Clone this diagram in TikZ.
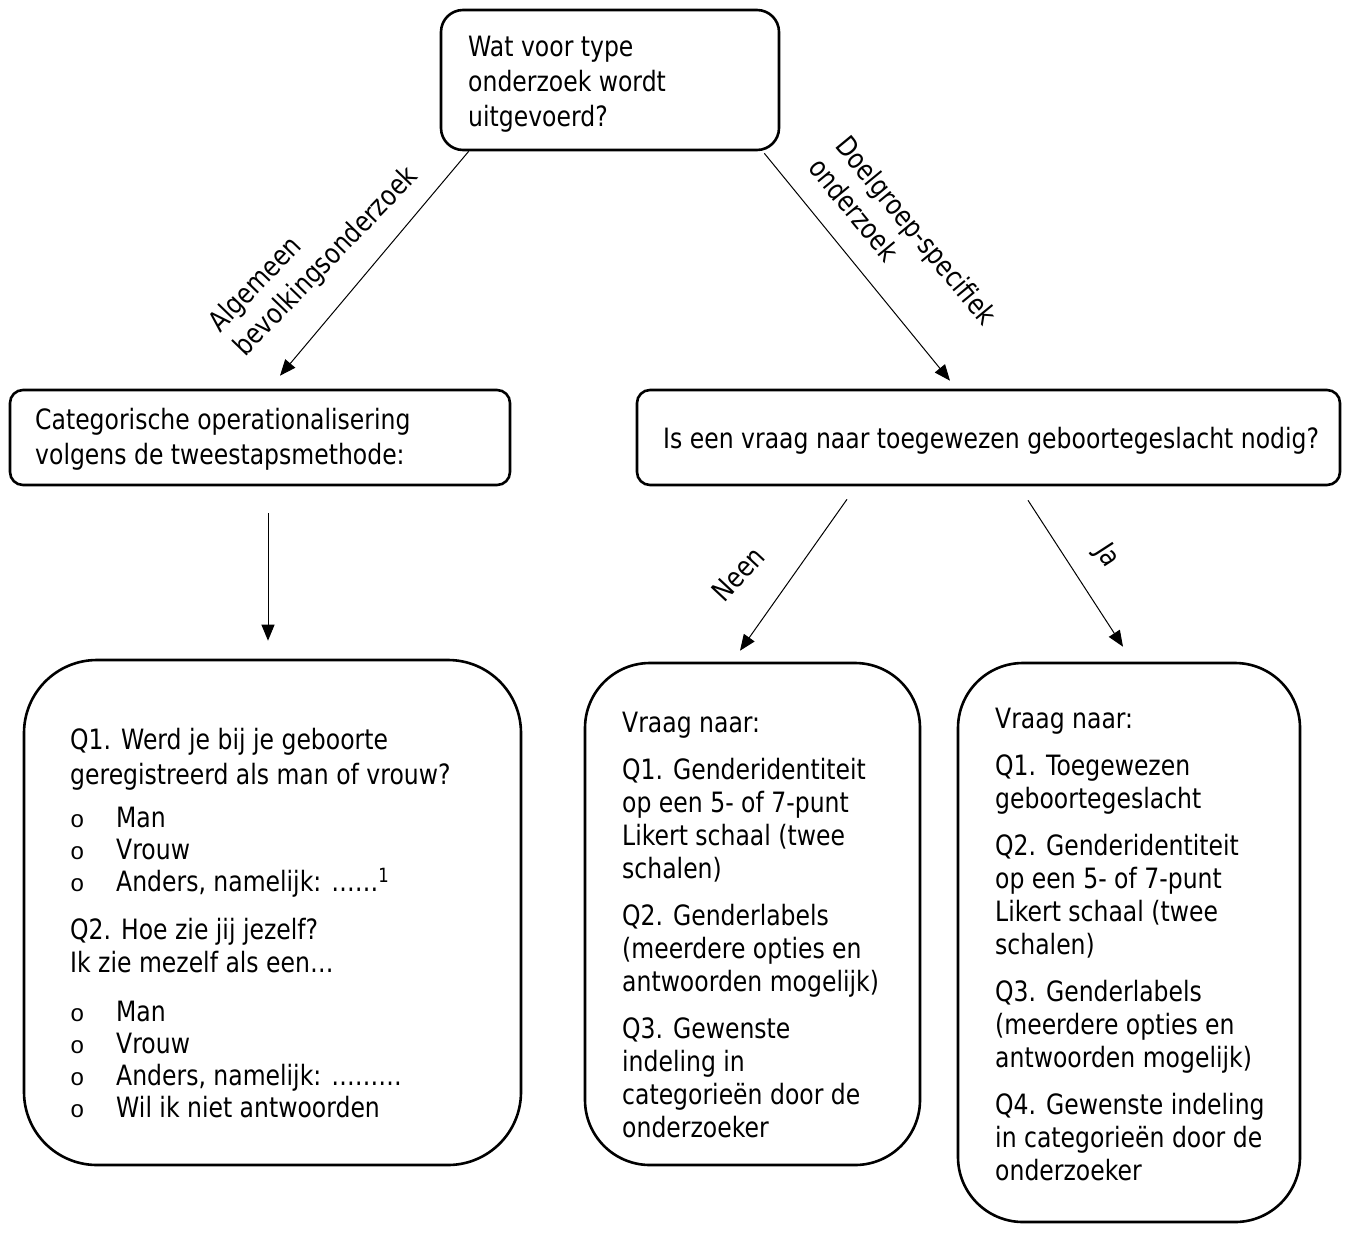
\documentclass[tikz,border=0pt]{standalone}
\usepackage{fontspec}
\setmainfont{DejaVu Sans}[FakeStretch=0.84]
\newfontfamily\bulletfont{Liberation Mono}
\usetikzlibrary{positioning, calc, arrows.meta}
\tikzset{box/.style={draw, line width=2.6pt, rounded corners=#1, inner sep=0pt}}
\tikzset{txt/.style={anchor=north west, inner sep=0pt, align=left, font=\fontsize{28}{33}\selectfont, execute at begin node=\strut}}
\tikzset{toptxt/.style={txt, font=\fontsize{28}{35}\selectfont}}
\tikzset{lbl/.style={inner sep=0pt, align=left, font=\fontsize{28}{35}\selectfont}}
\tikzset{arrow/.style={line width=1pt, -{Triangle[length=16pt, width=13pt]}}}
\newcommand{\opt}[1]{\makebox[46pt][l]{\bulletfont\fontsize{24}{24}\selectfont o}#1}

\begin{document}
\begin{tikzpicture}[x=1pt, y=-1pt]
                \useasboundingbox (0,0) rectangle (1349,1232);

                % boxes
                \node[box=22pt, minimum width=338pt, minimum height=140pt] (type) at (610,80) {};
                \node[box=13pt, minimum width=500pt, minimum height=95pt] (twostep) at (260,437.5) {};
                \node[box=13pt, minimum width=703pt, minimum height=95pt] (birthq) at (988.5,437.5) {};
                \node[box=73pt, minimum width=497pt, minimum height=505pt] (catq) at (272.5,912.5) {};
                \node[box=65pt, minimum width=335pt, minimum height=502pt] (neenq) at (752.5,914) {};
                \node[box=65pt, minimum width=342pt, minimum height=559pt] (jaq) at (1129,942.5) {};

                % texts
                \node[toptxt] (typetxt) at (468,36) {Wat voor type\\onderzoek wordt\\uitgevoerd?};
                \node[toptxt] (twosteptxt) at (35,408) {Categorische operationalisering\\volgens de tweestapsmethode:};
                \node[toptxt] (birthqtxt) at (663,423.5) {Is een vraag naar toegewezen geboortegeslacht nodig?};
                \node[txt] (catqtxt) at (70,727.9) {Q1. Werd je bij je geboorte\\[2pt]
                    geregistreerd als man of vrouw?\\[10pt]
                    \opt{Man}\\[-1pt]
                    \opt{Vrouw}\\[-1pt]
                    \opt{Anders, namelijk: ……\textsuperscript{1}}\\[15pt]
                    Q2. Hoe zie jij jezelf?\\
                    Ik zie mezelf als een…\\[16pt]
                    \opt{Man}\\[-1pt]
                    \opt{Vrouw}\\[-1pt]
                    \opt{Anders, namelijk: ………}\\[-1pt]
                    \opt{Wil ik niet antwoorden}};
                \node[txt] (neenqtxt) at (622,711.9) {Vraag naar:\\[14pt]
                    Q1. Genderidentiteit\\op een 5- of 7-punt\\Likert schaal (twee\\schalen)\\[14pt]
                    Q2. Genderlabels\\(meerdere opties en\\antwoorden mogelijk)\\[14pt]
                    Q3. Gewenste\\indeling in\\categorieën door de\\onderzoeker};
                \node[txt] (jaqtxt) at (995,707.9) {Vraag naar:\\[14pt]
                    Q1. Toegewezen\\geboortegeslacht\\[14pt]
                    Q2. Genderidentiteit\\op een 5- of 7-punt\\Likert schaal (twee\\schalen)\\[14pt]
                    Q3. Genderlabels\\(meerdere opties en\\antwoorden mogelijk)\\[14pt]
                    Q4. Gewenste indeling\\in categorieën door de\\onderzoeker};

                % arrows
                \draw[arrow] ([xshift=29pt]type.south west) -- ([xshift=20pt, yshift=13pt]twostep.north);
                \draw[arrow] ([xshift=-16pt, yshift=-2pt]type.south east) -- ([xshift=-38.5pt, yshift=8pt]birthq.north);
                \draw[arrow] ([xshift=8pt, yshift=-27pt]twostep.south) -- ([xshift=-4.5pt, yshift=18pt]catq.north);
                \draw[arrow] ([xshift=-141.5pt, yshift=-13pt]birthq.south) -- ([xshift=-12.5pt, yshift=11pt]neenq.north);
                \draw[arrow] ([xshift=39.5pt, yshift=-14pt]birthq.south) -- ([xshift=-6pt, yshift=15pt]jaq.north);

                % labels
                \node[lbl, rotate=46] (gen) at (314,250) {Algemeen\\bevolkingsonderzoek};
                \node[lbl, rotate=-50.5] (doel) at (903,241) {Doelgroep-specifiek\\onderzoek};
                \node[lbl, rotate=47] (neen) at (738,574) {Neen};
                \node[lbl, rotate=-57] (ja) at (1107,556) {Ja};
            \end{tikzpicture}
\end{document}
